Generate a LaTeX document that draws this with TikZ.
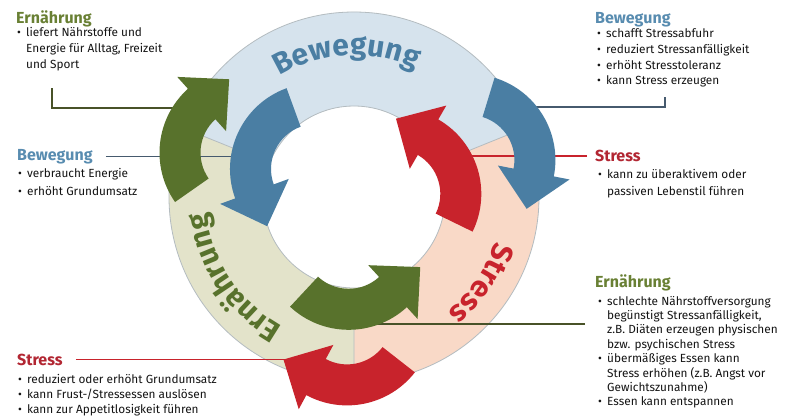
\documentclass[tikz,border=0pt]{standalone}
\usepackage{fontspec}
\setmainfont{Fira Sans}
\usepackage{tikz}
\usetikzlibrary{calc}
\usetikzlibrary{positioning}
\usetikzlibrary{decorations.text}

\definecolor{bewfill}{RGB}{214,227,237}
\definecolor{strfill}{RGB}{249,217,199}
\definecolor{ernfill}{RGB}{227,227,202}
\definecolor{bewblue}{RGB}{74,126,163}
\definecolor{strred}{RGB}{200,35,44}
\definecolor{erngreen}{RGB}{88,114,44}
\definecolor{bewhead}{RGB}{88,140,176}
\definecolor{strhead}{RGB}{178,38,50}
\definecolor{ernhead}{RGB}{105,128,52}
\definecolor{ringline}{RGB}{180,188,192}
\definecolor{ernlinecol}{RGB}{72,82,40}
\definecolor{bewlinecol}{RGB}{70,90,110}

\tikzstyle{head}=[anchor=base west,inner sep=0pt,font=\fontsize{16}{18}\selectfont\bfseries]
% multi-line body: base anchor sits on the last line
\tikzstyle{body}=[anchor=base west,inner sep=0pt,align=left,text=black!92]

\newcommand{\pkt}{\makebox[9pt][l]{\textbullet}}
\newcommand{\einz}{\hspace*{9pt}}
\newcommand{\ringfont}{\fontsize{30}{30}\selectfont\bfseries}
% arc arrow: style, centre, start angle, end angle, direction of tip
\newcommand{\bogen}[5]{%
  \fill[#1] ($(#2)+(#3:86pt)$) arc[start angle=#3,end angle=#4,radius=86pt]
    -- ($(#2)+(#4:102pt)$) -- ($(#2)+(#4:65.5pt)+(#5:37pt)$)
    -- ($(#2)+(#4:29pt)$) -- ($(#2)+(#4:45pt)$)
    arc[start angle=#4,end angle=#3,radius=45pt] -- cycle;}

\begin{document}
\begin{tikzpicture}[
  x=1pt,y=1pt,
  ringtext/.style={decorate,decoration={text along path,text align=center,
      text={|\ringfont|#1}}},
  ernline/.style={draw=ernlinecol,line width=1.2pt},
  bewline/.style={draw=bewlinecol,line width=1.2pt},
  strline/.style={draw=strred,line width=1.2pt},
]
\useasboundingbox (0,0) rectangle (793,-416);
\fill[white] (0,0) rectangle (793,-416);

\coordinate (O) at (354,-197);

% ring
\fill[bewfill] ($(O)+(22:185pt)$) arc[start angle=22,end angle=158,radius=185pt]
  -- ($(O)+(158:91pt)$) arc[start angle=158,end angle=22,radius=91pt] -- cycle;
\fill[strfill] ($(O)+(-90:185pt)$) arc[start angle=-90,end angle=22,radius=185pt]
  -- ($(O)+(22:91pt)$) arc[start angle=22,end angle=-90,radius=91pt] -- cycle;
\fill[ernfill] ($(O)+(158:185pt)$) arc[start angle=158,end angle=270,radius=185pt]
  -- ($(O)+(270:91pt)$) arc[start angle=270,end angle=158,radius=91pt] -- cycle;
\draw[ringline,line width=0.8pt] (O) circle[radius=185pt] (O) circle[radius=91pt];
\draw[ringline,line width=0.8pt] ($(O)+(22:91pt)$) -- ($(O)+(22:185pt)$)
  ($(O)+(158:91pt)$) -- ($(O)+(158:185pt)$)
  ($(O)+(270:91pt)$) -- ($(O)+(270:185pt)$);

\path[ringtext=Bewegung,decoration={text color=bewblue}]
  ($(O)+(153:142pt)$) arc[start angle=153,end angle=33,radius=142pt];
\path[ringtext=Stress,decoration={text color=strred}]
  ($(O)+(26:148pt)$) arc[start angle=26,end angle=-94,radius=148pt];
\path[ringtext=Ernährung,decoration={text color=erngreen}]
  ($(O)+(273.5:148pt)$) arc[start angle=273.5,end angle=153.5,radius=148pt];

% texts
\node[head,text=ernhead] (hErnTL) at (16,-23) {Ernährung};
\node[body,font=\fontsize{11.8}{16.2}\selectfont] (tErnTL) at (17,-68.9)
  {\pkt liefert Nährstoffe und\\\einz Energie für Alltag, Freizeit\\\einz und Sport};

\node[head,text=bewhead] (hBewR) at (595,-23.5) {Bewegung};
\node[body,font=\fontsize{11.8}{15.8}\selectfont] (tBewR) at (597,-84.9)
  {\pkt schafft Stressabfuhr\\\pkt reduziert Stressanfälligkeit\\\pkt erhöht Stresstoleranz\\\pkt kann Stress erzeugen};

\node[head,text=bewhead] (hBewL) at (17,-160) {Bewegung};
\node[body,font=\fontsize{11.8}{17.5}\selectfont] (tBewL) at (18,-195)
  {\pkt verbraucht Energie\\\pkt erhöht Grundumsatz};

\node[head,text=strhead] (hStrR) at (595,-161.5) {Stress};
\node[body,font=\fontsize{11.8}{17}\selectfont] (tStrR) at (598,-195)
  {\pkt kann zu überaktivem oder\\\einz passiven Lebenstil führen};

\node[head,text=ernhead] (hErnR) at (595,-287) {Ernährung};
\node[body,font=\fontsize{11.8}{14.4}\selectfont] (tErnR) at (598,-405.8)
  {\pkt schlechte Nährstoffversorgung\\\einz begünstigt Stressanfälligkeit,\\\einz z.B. Diäten erzeugen physischen\\\einz bzw. psychischen Stress\\\pkt übermäßiges Essen kann\\\einz Stress erhöhen (z.B. Angst vor\\\einz Gewichtszunahme)\\\pkt Essen kann entspannen};

\node[head,text=strhead] (hStrL) at (17,-365) {Stress};
\node[body,font=\fontsize{11.8}{15}\selectfont] (tStrL) at (18,-413)
  {\pkt reduziert oder erhöht Grundumsatz\\\pkt kann Frust-/Stressessen auslösen\\\pkt kann zur Appetitlosigkeit führen};

% leader lines
\coordinate (lErnTL) at (52,-88);
\coordinate (aG1) at (190,-108);
\coordinate (lBewR) at (665,-97);
\coordinate (aB2) at (520,-107);
\coordinate (aB1) at (240,-155);
\coordinate (aR1) at (465,-155);
\coordinate (lErnR) at (585,-324);
\coordinate (aG2) at (365,-324);
\coordinate (aR2) at (300,-360);
\draw[ernline] (lErnTL) |- (aG1);
\draw[bewline] (lBewR) |- (aB2);
\draw[bewline] ([xshift=13pt]hBewL.east) -- (aB1 |- hBewL.east);
\draw[strline] ([xshift=-8pt]hStrR.west) -- (aR1 |- hStrR.west);
\draw[ernline] (lErnR) -- (aG2);
\draw[strline] ([xshift=13pt]hStrL.east) -- (aR2 |- hStrL.east);

% arrows
\coordinate (cG1) at (245.5,-152.7);
\coordinate (cB1) at (316,-169);
\coordinate (cB2) at (469.4,-160);
\coordinate (cR1) at (395.3,-193.9);
\coordinate (cG2) at (348.7,-243.8);
\coordinate (cR2) at (347.1,-319.4);
\bogen{erngreen}{cG1}{215}{132}{42}
\bogen{bewblue}{cB1}{110}{200}{290}
\bogen{bewblue}{cB2}{73}{-11}{-101}
\bogen{strred}{cR1}{-26}{60}{150}
\bogen{erngreen}{cG2}{227}{312.5}{402.5}
\bogen{strred}{cR2}{322}{241.7}{151.7}
\end{tikzpicture}
\end{document}
